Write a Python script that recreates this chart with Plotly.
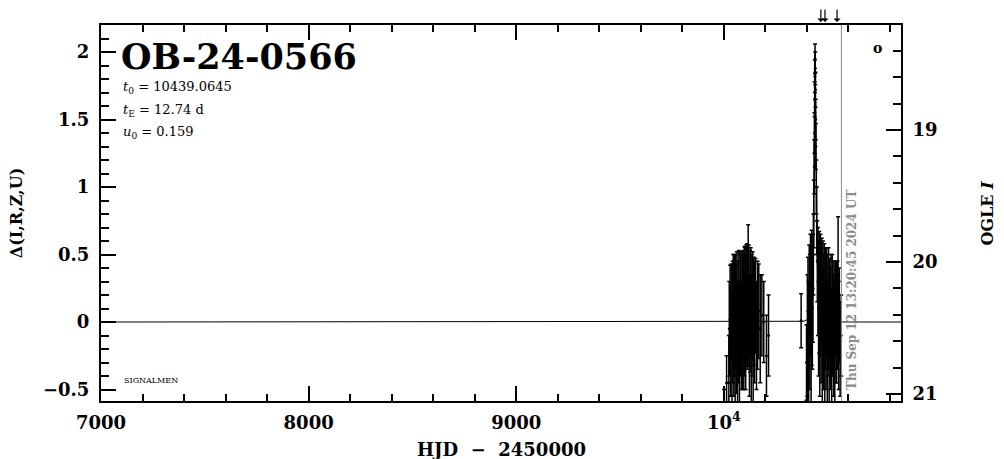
import numpy as np
import plotly.graph_objects as go

# ---------------- data ----------------
event_name = "OB-24-0566"
t0 = 10439.0645
tE = 12.74
u0 = 0.159
now_hjd = 10566.06
now_label = "Thu Sep 12 13:20:45 2024 UT"
arrow_times = [10467, 10487, 10545]

# 2023 season (HJD-2450000, delta mag, error)
t_2023 = [10001, 10013, 10024, 10026, 10030, 10033, 10036, 10039, 10042, 10045,
          10048, 10051, 10054, 10057, 10060, 10063, 10066, 10069, 10072, 10075,
          10078, 10081, 10084, 10087, 10090, 10093, 10096, 10099, 10102, 10105,
          10108, 10111, 10114, 10117, 10120, 10123, 10126, 10129, 10132, 10135,
          10138, 10141, 10144, 10148, 10152, 10157, 10162, 10168, 10175, 10183,
          10192, 10205, 10215]
d_2023 = [-0.62, -0.45, -0.45, -0.05, 0.02, -0.15, 0.08, -0.25, 0.00, 0.10,
          -0.10, 0.05, -0.30, 0.08, -0.05, 0.12, -0.20, 0.00, 0.08, -0.15,
          0.10, 0.05, -0.10, 0.12, 0.00, 0.15, -0.05, 0.08, 0.15, 0.00,
          0.12, 0.18, 0.10, 0.30, 0.12, -0.10, 0.08, 0.15, -0.15, 0.05,
          0.12, -0.20, 0.08, 0.00, 0.12, -0.10, 0.05, 0.08, -0.05, 0.05,
          0.00, -0.25, -0.10]
e_2023 = [0.12, 0.20, 0.35, 0.35, 0.40, 0.40, 0.35, 0.45, 0.45, 0.40,
          0.45, 0.45, 0.40, 0.42, 0.48, 0.40, 0.50, 0.45, 0.45, 0.45,
          0.42, 0.45, 0.40, 0.40, 0.50, 0.38, 0.45, 0.48, 0.40, 0.50,
          0.45, 0.40, 0.45, 0.42, 0.45, 0.45, 0.45, 0.40, 0.50, 0.45,
          0.40, 0.45, 0.40, 0.45, 0.35, 0.40, 0.40, 0.35, 0.40, 0.30,
          0.30, 0.30, 0.30]

# 2024 season
t_2024 = [10372, 10398, 10402, 10405, 10408, 10411, 10414, 10417, 10420, 10423,
          10426, 10429, 10431, 10433, 10435, 10436, 10437, 10438, 10439, 10440,
          10441, 10442, 10443, 10445, 10447, 10450, 10453, 10456, 10459, 10462,
          10465, 10468, 10471, 10474, 10477, 10480, 10483, 10486, 10489, 10492,
          10495, 10498, 10501, 10504, 10507, 10510, 10513, 10516, 10519, 10522,
          10525, 10528, 10531, 10534, 10537, 10540, 10543, 10547, 10550, 10553,
          10556, 10560, 10565]
d_2024 = [0.01, -0.30, -0.10, 0.08, -0.20, 0.12, 0.00, 0.20, -0.10, 0.18,
          0.10, 0.25, 0.50, 0.80, 1.15, 1.40, 1.65, 1.82, 1.95, 1.88,
          1.72, 1.50, 1.30, 1.00, 0.75, 0.45, 0.30, 0.10, 0.22, -0.05,
          0.20, 0.05, 0.22, -0.10, 0.15, 0.00, 0.18, -0.15, 0.10, 0.00,
          0.15, -0.20, 0.05, 0.10, -0.10, 0.12, -0.05, 0.10, -0.20, 0.05,
          0.10, -0.10, 0.05, -0.15, 0.10, -0.05, 0.00, 0.05, 0.35, -0.10,
          0.05, -0.20, -0.10]
e_2024 = [0.20, 0.28, 0.45, 0.40, 0.50, 0.45, 0.50, 0.45, 0.50, 0.50,
          0.45, 0.40, 0.30, 0.25, 0.20, 0.15, 0.13, 0.12, 0.11, 0.12,
          0.13, 0.15, 0.17, 0.20, 0.25, 0.30, 0.40, 0.50, 0.45, 0.50,
          0.45, 0.50, 0.40, 0.50, 0.45, 0.50, 0.40, 0.45, 0.45, 0.50,
          0.40, 0.50, 0.45, 0.45, 0.50, 0.35, 0.45, 0.40, 0.45, 0.45,
          0.35, 0.45, 0.40, 0.45, 0.35, 0.40, 0.45, 0.40, 0.43, 0.40,
          0.35, 0.35, 0.30]

x_ticks = [7000, 8000, 9000, 10000]
x_ticktext = ["7000", "8000", "9000", "10<sup>4</sup>"]
y_ticks = [-0.5, 0, 0.5, 1, 1.5, 2]
y_ticktext = ["\u22120.5", "0", "0.5", "1", "1.5", "2"]
y2_ticks = [19, 20, 21]

# ---------------- model (PSPL from displayed parameters) ----------------
tm = np.concatenate([np.linspace(7000, 10300, 60),
                     np.linspace(10300, 10600, 3001),
                     np.linspace(10600, 10853, 20)])
u = np.sqrt(u0 ** 2 + ((tm - t0) / tE) ** 2)
A = (u ** 2 + 2) / (u * np.sqrt(u ** 2 + 4))
dm = 2.5 * np.log10(A)

FONT = "DejaVu Serif"
fig = go.Figure()

fig.add_trace(go.Scatter(x=tm, y=dm, mode="lines",
                         line=dict(color="black", width=1), showlegend=False))
for tt, dd, ee in [(t_2023, d_2023, e_2023), (t_2024, d_2024, e_2024)]:
    fig.add_trace(go.Scatter(
        x=tt, y=dd, mode="markers",
        marker=dict(color="black", size=3),
        error_y=dict(type="data", array=ee, visible=True,
                     color="black", thickness=1.5, width=2),
        showlegend=False))

# dummy trace for right axis
fig.add_trace(go.Scatter(x=[7000], y=[20], yaxis="y2", mode="markers",
                         marker=dict(opacity=0), showlegend=False,
                         hoverinfo="skip"))

fig.add_shape(type="line", xref="x", yref="paper", x0=now_hjd, x1=now_hjd,
              y0=0, y1=1, line=dict(color="#8c8c8c", width=1))

axis_common = dict(showline=True, linecolor="black", linewidth=2,
                   ticks="inside", tickcolor="black", tickwidth=2,
                   showgrid=False, zeroline=False)
tickfont = dict(family=FONT, size=18, weight="bold")

# page body has an 8px margin: shrink figure to keep plot area in place
fig.update_layout(
    width=996, height=451,
    margin=dict(l=93, r=103, t=17, b=58),
    paper_bgcolor="white", plot_bgcolor="white",
    font=dict(family=FONT, color="black"),
    xaxis=dict(range=[7000, 10853], tickmode="array", tickvals=x_ticks,
               ticktext=x_ticktext, ticklen=15, mirror="ticks",
               minor=dict(dtick=200, tick0=7000, ticklen=7, ticks="inside",
                          tickcolor="black", tickwidth=2),
               tickfont=tickfont, ticklabelstandoff=4,
               **axis_common),
    yaxis=dict(range=[-0.585, 2.2], tickmode="array", tickvals=y_ticks,
               ticktext=y_ticktext, ticklen=15,
               minor=dict(dtick=0.1, tick0=0, ticklen=8, ticks="inside",
                          tickcolor="black", tickwidth=2),
               tickfont=tickfont, ticklabelstandoff=6,
               **axis_common),
    yaxis2=dict(range=[21.053, 18.205], overlaying="y", side="right",
                tickmode="array", tickvals=y2_ticks, ticklen=15,
                minor=dict(dtick=0.2, tick0=19, ticklen=8, ticks="inside",
                           tickcolor="black", tickwidth=2),
                tickfont=tickfont, ticklabelstandoff=6,
                **axis_common),
)

ann = []
ann.append(dict(text="<b>" + event_name + "</b>", xref="paper", yref="paper",
                x=0.022, y=0.915, xanchor="left", yanchor="middle",
                showarrow=False, font=dict(family=FONT, size=35)))
params = [("<i>t</i><sub>0</sub> = 10439.0645", 0.833),
          ("<i>t</i><sub>E</sub> = 12.74 d", 0.772),
          ("<i>u</i><sub>0</sub> = 0.159", 0.713)]
for txt, yy in params:
    ann.append(dict(text=txt, xref="paper", yref="paper", x=0.025, y=yy,
                    xanchor="left", yanchor="middle", showarrow=False,
                    font=dict(family=FONT, size=13)))
ann.append(dict(text="SIGNALMEN", xref="paper", yref="paper", x=0.026, y=0.055,
                xanchor="left", yanchor="middle", showarrow=False,
                font=dict(family=FONT, size=8)))
ann.append(dict(text="<b>o</b>", xref="paper", yref="paper", x=0.97, y=0.94,
                xanchor="center", yanchor="middle", showarrow=False,
                font=dict(family=FONT, size=14)))
ann.append(dict(text="<b>" + now_label + "</b>", xref="x", yref="paper",
                x=now_hjd, y=0.025, xanchor="left", yanchor="bottom",
                xshift=1, textangle=-90, showarrow=False,
                font=dict(family=FONT, size=12, color="#8c8c8c")))
ann.append(dict(text="<b>HJD\u00a0\u00a0\u2212\u00a0\u00a02450000</b>",
                xref="paper", yref="paper",
                x=0.5, y=-0.128, xanchor="center", yanchor="middle",
                showarrow=False, font=dict(family=FONT, size=18)))
ann.append(dict(text="<b>\u0394(I,R,Z,U)</b>", xref="paper", yref="paper",
                x=-0.106, y=0.5, xanchor="center", yanchor="middle",
                textangle=-90, showarrow=False,
                font=dict(family=FONT, size=16)))
ann.append(dict(text="<b>OGLE <i>I</i></b>", xref="paper", yref="paper",
                x=1.107, y=0.5, xanchor="center", yanchor="middle",
                textangle=-90, showarrow=False,
                font=dict(family=FONT, size=16)))
for ta in arrow_times:
    ann.append(dict(x=ta, y=1.008, xref="x", yref="paper", text="",
                    showarrow=True, ax=0, ay=-22, arrowhead=1,
                    arrowsize=1, arrowwidth=1.2, arrowcolor="black"))
fig.update_layout(annotations=ann)

fig.write_html("out.html")
